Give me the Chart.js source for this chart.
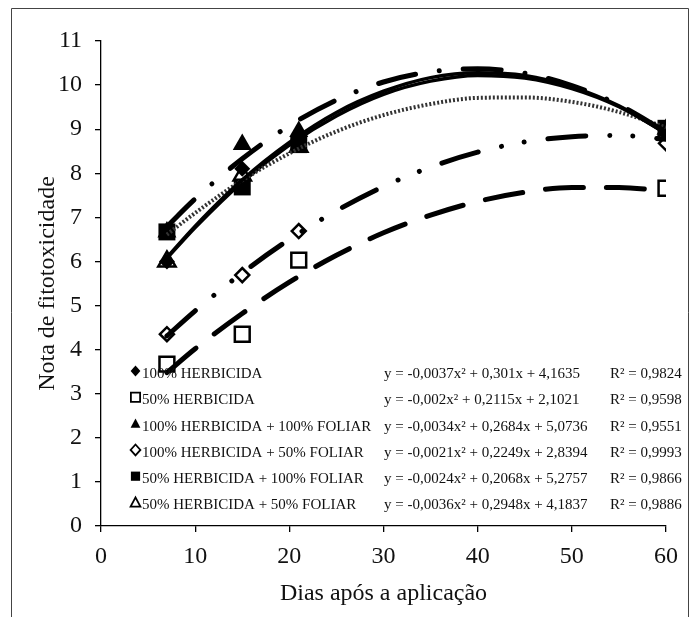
<!DOCTYPE html>
<html>
<head>
<meta charset="utf-8">
<script src="https://cdn.jsdelivr.net/npm/chart.js@4.4.1/dist/chart.umd.min.js"></script>
<style>
  html, body { margin: 0; padding: 0; background: #fff; }
  #wrap { position: relative; width: 695px; height: 617px; }
</style>
</head>
<body>
<div id="wrap"><canvas id="chart" width="695" height="617"></canvas></div>
<script>
// ── Observed values (days after application) ──
const days = [7, 15, 21, 60];
const herb100 = [6.0, 8.1, 8.7, 8.9];
const herb50 = [3.67, 4.35, 6.03, 7.66];
const herb100fol100 = [6.67, 8.65, 8.95, 9.0];
const herb100fol50 = [4.35, 5.69, 6.69, 8.68];
const herb50fol100 = [6.67, 7.69, 8.65, 9.02];
const herb50fol50 = [6.0, 7.95, 8.6, 8.9];

// ── Fitted trend curves ──
const curveDays = [7, 10, 15, 20, 25, 30, 35, 40, 45, 50, 55, 60];
const fitHerb100 = [6.09, 6.80, 7.85, 8.70, 9.38, 9.86, 10.17, 10.28, 10.22, 9.96, 9.53, 8.90];
const fitHerb50 = [3.48, 4.02, 4.82, 5.53, 6.14, 6.65, 7.05, 7.36, 7.57, 7.68, 7.68, 7.59];
const fitHerb100fol100 = [6.79, 7.42, 8.33, 9.08, 9.66, 10.07, 10.30, 10.37, 10.27, 9.99, 9.55, 8.94];
const fitHerb100fol50 = [4.31, 4.88, 5.74, 6.50, 7.15, 7.70, 8.14, 8.48, 8.71, 8.83, 8.86, 8.77];
const fitHerb50fol100 = [6.61, 7.10, 7.84, 8.45, 8.95, 9.32, 9.57, 9.71, 9.72, 9.62, 9.39, 9.04];
const fitHerb50fol50 = [6.07, 6.77, 7.80, 8.64, 9.30, 9.79, 10.09, 10.22, 10.16, 9.92, 9.51, 8.91];

// ── Legend texts ──
const seriesNames = [
    '100% HERBICIDA',
    '50% HERBICIDA',
    '100% HERBICIDA + 100% FOLIAR',
    '100% HERBICIDA + 50% FOLIAR',
    '50% HERBICIDA + 100% FOLIAR',
    '50% HERBICIDA + 50% FOLIAR'
];
const equations = [
    'y = -0,0037x² + 0,301x + 4,1635',
    'y = -0,002x² + 0,2115x + 2,1021',
    'y = -0,0034x² + 0,2684x + 5,0736',
    'y = -0,0021x² + 0,2249x + 2,8394',
    'y = -0,0024x² + 0,2068x + 5,2757',
    'y = -0,0036x² + 0,2948x + 4,1837'
];
const r2Texts = ['R² = 0,9824', 'R² = 0,9598', 'R² = 0,9551', 'R² = 0,9993', 'R² = 0,9866', 'R² = 0,9886'];

const xTitle = 'Dias após a aplicação';
const yTitle = 'Nota de fitotoxicidade';

const SERIF = "'Liberation Serif', 'Times New Roman', serif";
const INK = '#111';

// ── Per-series look ──
const observed = [herb100, herb50, herb100fol100, herb100fol50, herb50fol100, herb50fol50];
const fitted = [fitHerb100, fitHerb50, fitHerb100fol100, fitHerb100fol50, fitHerb50fol100, fitHerb50fol50];
const markers = [
    { style: 'rectRot', filled: true, r: 8 },
    { style: 'rect', filled: false, r: 10.5 },
    { style: 'triangle', filled: true, r: 11 },
    { style: 'rectRot', filled: false, r: 7 },
    { style: 'rect', filled: true, r: 12 },
    { style: 'triangle', filled: false, r: 10 }
];
const lines = [
    { dash: [], width: 3.5, color: '#000' },
    { dash: [38, 23], width: 5, color: '#000' },
    { dash: [38, 24, 0.01, 24], width: 5, color: '#000' },
    { dash: [38, 24, 0.01, 23, 0.01, 24], width: 5, color: '#000' },
    { dash: [2, 2], width: 4, color: '#333' },
    { dash: [], width: 3.5, color: '#000' }
];

const toXY = (xs, ys) => xs.map((x, i) => ({ x, y: ys[i] }));

const datasets = [];
fitted.forEach((ys, i) => {
    datasets.push({
        label: seriesNames[i] + ' (tendência)',
        data: toXY(curveDays, ys),
        showLine: true,
        pointRadius: 0,
        borderColor: lines[i].color,
        borderWidth: lines[i].width,
        borderDash: lines[i].dash,
        borderCapStyle: lines[i].dash.length > 2 || lines[i].dash[0] > 10 ? 'round' : 'butt',
        cubicInterpolationMode: 'monotone',
        fill: false,
        order: 0
    });
});
observed.forEach((ys, i) => {
    const m = markers[i];
    datasets.push({
        label: seriesNames[i],
        data: toXY(days, ys),
        showLine: false,
        pointStyle: m.style,
        pointRadius: m.r,
        pointBackgroundColor: m.filled ? '#000' : '#fff',
        pointBorderColor: '#000',
        pointBorderWidth: m.filled ? 0 : 2.5,
        order: 1
    });
});

// ── Small marker for the in-plot legend ──
function drawMarker(ctx, m, x, y) {
    const r = 4.6;
    ctx.beginPath();
    if (m.style === 'rect') {
        ctx.rect(x - r, y - r, 2 * r, 2 * r);
    } else if (m.style === 'rectRot') {
        ctx.moveTo(x, y - r - 0.8); ctx.lineTo(x + r + 0.3, y); ctx.lineTo(x, y + r + 0.8); ctx.lineTo(x - r - 0.3, y); ctx.closePath();
    } else {
        ctx.moveTo(x, y - r - 0.5); ctx.lineTo(x + r + 0.3, y + r - 0.5); ctx.lineTo(x - r - 0.3, y + r - 0.5); ctx.closePath();
    }
    if (m.filled) {
        ctx.fillStyle = '#000'; ctx.fill();
    } else {
        ctx.fillStyle = '#fff'; ctx.fill();
        ctx.lineWidth = 1.8; ctx.strokeStyle = '#000'; ctx.stroke();
    }
}

const legendAndFrame = {
    id: 'legendAndFrame',
    afterDraw(chart) {
        const ctx = chart.ctx;
        ctx.save();
        // outer frame
        ctx.strokeStyle = '#444';
        ctx.lineWidth = 1;
        ctx.beginPath();
        ctx.moveTo(11.5, 617); ctx.lineTo(11.5, 8.5); ctx.lineTo(688.5, 8.5); ctx.lineTo(688.5, 617);
        ctx.stroke();

        // legend rows inside the plot
        const rowY = [374, 400.3, 426.6, 452.9, 479.2, 505.5];
        ctx.font = '15px ' + SERIF;
        ctx.textBaseline = 'middle';
        ctx.textAlign = 'left';
        seriesNames.forEach((name, i) => {
            drawMarker(ctx, markers[i], 135.5, rowY[i] - 3);
            ctx.fillStyle = INK;
            ctx.fillText(name, 142, rowY[i]);
            ctx.fillText(equations[i], 384, rowY[i]);
            ctx.fillText(r2Texts[i], 610, rowY[i]);
        });
        ctx.restore();
    }
};

new Chart(document.getElementById('chart'), {
    type: 'scatter',
    data: { datasets },
    options: {
        responsive: false,
        animation: false,
        devicePixelRatio: 1,
        layout: { padding: { left: 0, top: 41, right: 29, bottom: 0 } },
        plugins: { legend: { display: false }, tooltip: { enabled: false } },
        scales: {
            x: {
                type: 'linear',
                min: 0, max: 60,
                afterFit: s => { s.height = 91; },
                ticks: { stepSize: 10, color: INK, padding: 10, font: { family: SERIF, size: 24 } },
                grid: { drawOnChartArea: false, drawTicks: true, tickLength: 6, color: '#000', lineWidth: 1.3 },
                border: { color: '#000', width: 1.3 },
                title: { display: true, text: xTitle, color: INK, font: { family: SERIF, size: 24 }, padding: { top: 0, bottom: 9 } }
            },
            y: {
                type: 'linear',
                min: 0, max: 11,
                afterFit: s => { s.width = 101; },
                ticks: { stepSize: 1, color: INK, padding: 13, font: { family: SERIF, size: 24 } },
                grid: { drawOnChartArea: false, drawTicks: true, tickLength: 6, color: '#000', lineWidth: 1.3 },
                border: { color: '#000', width: 1.3 },
                title: { display: true, text: yTitle, color: INK, font: { family: SERIF, size: 24 }, padding: { top: 33, bottom: 0 } }
            }
        }
    },
    plugins: [legendAndFrame]
});
</script>
</body>
</html>
